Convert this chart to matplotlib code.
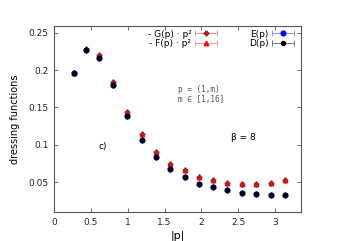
import numpy as np
import matplotlib.pyplot as plt
from matplotlib.container import ErrorbarContainer
from matplotlib.legend_handler import HandlerErrorbar

# |p| values and dressing functions
p = [0.27, 0.43, 0.61, 0.80, 0.99, 1.19, 1.38, 1.57, 1.77, 1.96, 2.16, 2.35, 2.55, 2.74, 2.94, 3.13]
G = [0.196, 0.228, 0.220, 0.184, 0.1444, 0.114, 0.091, 0.075, 0.0657, 0.057, 0.0527, 0.0487, 0.0478, 0.0478, 0.0487, 0.0523]
F = [0.196, 0.228, 0.220, 0.184, 0.1444, 0.114, 0.091, 0.075, 0.0657, 0.057, 0.0527, 0.0487, 0.0478, 0.0478, 0.0487, 0.0523]
E = [0.196, 0.227, 0.216, 0.180, 0.139, 0.107, 0.084, 0.0675, 0.057, 0.048, 0.043, 0.039, 0.0357, 0.034, 0.033, 0.033]
D = [0.196, 0.227, 0.216, 0.180, 0.139, 0.107, 0.084, 0.0675, 0.057, 0.048, 0.043, 0.039, 0.0357, 0.034, 0.033, 0.033]
labels = ['- G(p) \u00b7 p\u00b2', '- F(p) \u00b7 p\u00b2', 'E(p)', 'D(p)']

plt.rcParams['font.family'] = 'DejaVu Sans'
plt.rcParams['font.size'] = 6.5

fig = plt.figure(figsize=(3.41, 2.41), dpi=100)
ax = fig.add_axes([0.158, 0.12, 0.725, 0.772])

zero = np.zeros(len(p))
kw = dict(xerr=zero, capsize=2, elinewidth=0.6, capthick=0.6, ls='none')
hF = ax.errorbar(p, F, fmt='^', color='red', ecolor='#ff8080', ms=3.2, **kw)
hG = ax.errorbar(p, G, fmt='P', color='#b22222', ecolor='#e08080', ms=3.2, **kw)
hE = ax.errorbar(p, E, fmt='o', color='blue', ecolor='#8080ff', ms=3.4, **kw)
hD = ax.errorbar(p, D, fmt='o', color='black', ecolor='#606060', ms=2.9, **kw)

ax.set_xlim(0, 3.35)
ax.set_ylim(0.01, 0.259)
ax.set_xticks([0, 0.5, 1, 1.5, 2, 2.5, 3])
ax.set_xticklabels(['0', '0.5', '1', '1.5', '2', '2.5', '3'])
ax.set_yticks([0.05, 0.1, 0.15, 0.2, 0.25])
ax.set_yticklabels(['0.05', '0.1', '0.15', '0.2', '0.25'])
ax.tick_params(direction='in', top=True, right=True, length=3, width=0.6,
               colors='#555555', labelcolor='#222222', pad=4)
for s in ax.spines.values():
    s.set_color('#555555')
    s.set_linewidth(0.8)

ax.set_xlabel('|p|', fontsize=8, labelpad=3)
ax.set_ylabel('dressing functions', fontsize=7, labelpad=6)

ax.text(1.68, 0.171, 'p = (1,m)', family='DejaVu Sans Mono', fontsize=5.5, color='#555555')
ax.text(1.68, 0.157, 'm \u2208 [1,16]', family='DejaVu Sans Mono', fontsize=5.5, color='#555555')
ax.text(2.4, 0.106, '\u03b2 = 8', fontsize=6.5)
ax.text(0.6, 0.095, 'c)', fontsize=6.5)

ax.legend([hG, hF, hE, hD], labels,
          loc='upper right', ncol=2, frameon=False, markerfirst=False,
          handlelength=2.4, handletextpad=0.4, columnspacing=3.6,
          labelspacing=0.05, fontsize=6.5, borderaxespad=0.1,
          bbox_to_anchor=(0.99, 1.005),
          handler_map={ErrorbarContainer: HandlerErrorbar(xerr_size=1.2)})

fig.savefig('out.png', dpi=100)
